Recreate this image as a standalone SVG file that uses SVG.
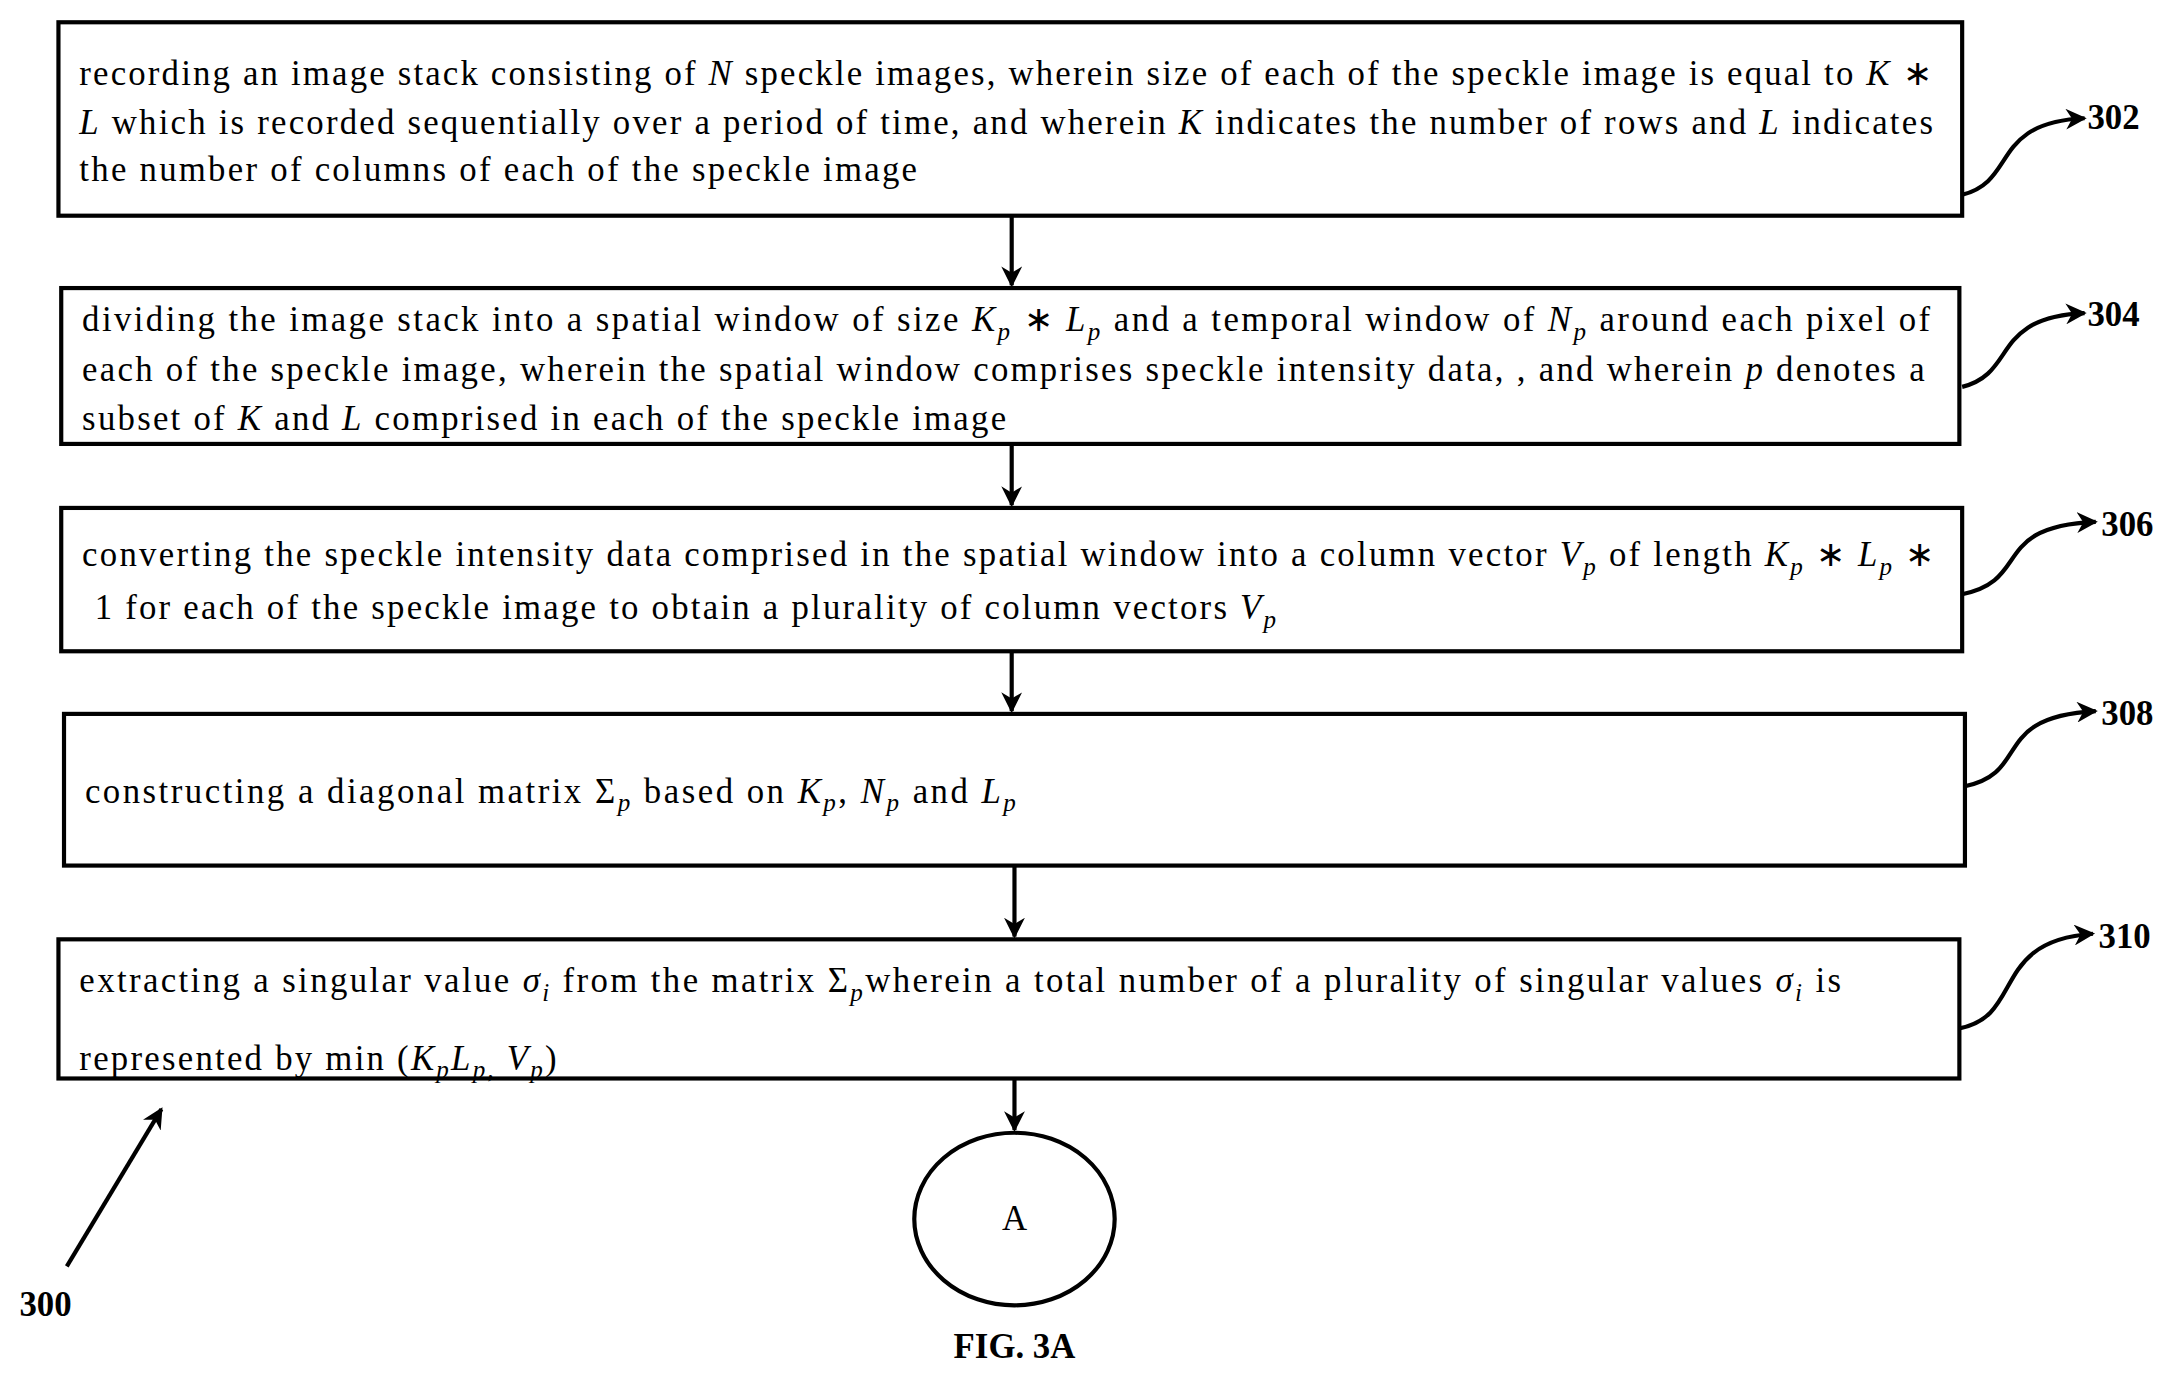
<svg xmlns="http://www.w3.org/2000/svg" width="2182" height="1381" viewBox="0 0 2182 1381">
<style>
.b{fill:#fff;stroke:#000;stroke-width:3}
.t{font-family:"Liberation Serif",serif;font-size:25px;fill:#000}
.i{font-style:italic}
.s{font-size:18px}
.l{font-family:"Liberation Serif",serif;font-size:25px;font-weight:bold;fill:#000}
.c{fill:none;stroke:#000;stroke-width:3}
</style>
<defs><marker id="a" viewBox="0 0 10 10" refX="9" refY="5" markerWidth="5" markerHeight="5" orient="auto"><path d="M0,0 L10,5 L0,10 L3,5 z" fill="#000"/></marker></defs>
<rect width="2182" height="1381" fill="#fff"/>
<g transform="scale(1.3916)">
<g id="n302"><rect class="b" x="42" y="16" width="1368" height="139"/>
<text class="t" x="57" y="61" textLength="1331" lengthAdjust="spacing">recording an image stack consisting of <tspan class="i">N</tspan> speckle images, wherein size of each of the speckle image is equal to <tspan class="i">K</tspan> ∗</text>
<text class="t" x="57" y="96" textLength="1332" lengthAdjust="spacing"><tspan class="i">L</tspan> which is recorded sequentially over a period of time, and wherein <tspan class="i">K</tspan> indicates the number of rows and <tspan class="i">L</tspan> indicates</text>
<text class="t" x="57" y="130" textLength="602" lengthAdjust="spacing">the number of columns of each of the speckle image</text></g>
<g id="n304"><rect class="b" x="44" y="207" width="1364" height="112"/>
<text class="t" x="59" y="238" textLength="1328" lengthAdjust="spacing">dividing the image stack into a spatial window of size <tspan class="i">K</tspan><tspan class="i s" dy="6">p</tspan><tspan dy="-6"> ∗ </tspan><tspan class="i">L</tspan><tspan class="i s" dy="6">p</tspan><tspan dy="-6"> and a temporal window of </tspan><tspan class="i">N</tspan><tspan class="i s" dy="6">p</tspan><tspan dy="-6"> around each pixel of</tspan></text>
<text class="t" x="59" y="274" textLength="1324" lengthAdjust="spacing">each of the speckle image, wherein the spatial window comprises speckle intensity data, , and wherein <tspan class="i">p</tspan> denotes a</text>
<text class="t" x="59" y="309" textLength="664" lengthAdjust="spacing">subset of <tspan class="i">K</tspan> and <tspan class="i">L</tspan> comprised in each of the speckle image</text></g>
<g id="n306"><rect class="b" x="44" y="365" width="1366" height="103"/>
<text class="t" x="59" y="407" textLength="1331" lengthAdjust="spacing">converting the speckle intensity data comprised in the spatial window into a column vector <tspan class="i">V</tspan><tspan class="i s" dy="6">p</tspan><tspan dy="-6"> of length </tspan><tspan class="i">K</tspan><tspan class="i s" dy="6">p</tspan><tspan dy="-6"> ∗ </tspan><tspan class="i">L</tspan><tspan class="i s" dy="6">p</tspan><tspan dy="-6"> ∗</tspan></text>
<text class="t" x="68" y="445" textLength="849" lengthAdjust="spacing">1 for each of the speckle image to obtain a plurality of column vectors <tspan class="i">V</tspan><tspan class="i s" dy="6">p</tspan></text></g>
<g id="n308"><rect class="b" x="46" y="513" width="1366" height="109"/>
<text class="t" x="61" y="577" textLength="669" lengthAdjust="spacing">constructing a diagonal matrix Σ<tspan class="i s" dy="6">p</tspan><tspan dy="-6"> based on </tspan><tspan class="i">K</tspan><tspan class="i s" dy="6">p</tspan><tspan dy="-6">, </tspan><tspan class="i">N</tspan><tspan class="i s" dy="6">p</tspan><tspan dy="-6"> and </tspan><tspan class="i">L</tspan><tspan class="i s" dy="6">p</tspan></text></g>
<g id="n310"><rect class="b" x="42" y="675" width="1366" height="100"/>
<text class="t" x="57" y="713" textLength="1266" lengthAdjust="spacing">extracting a singular value <tspan class="i">σ</tspan><tspan class="i s" dy="6">i</tspan><tspan dy="-6"> from the matrix Σ</tspan><tspan class="i s" dy="6">p</tspan><tspan dy="-6">wherein a total number of a plurality of singular values  </tspan><tspan class="i">σ</tspan><tspan class="i s" dy="6">i</tspan><tspan dy="-6"> is</tspan></text>
<text class="t" x="57" y="769" textLength="343" lengthAdjust="spacing">represented by min (<tspan class="i">K</tspan><tspan class="i s" dy="6">p</tspan><tspan class="i" dy="-6">L</tspan><tspan class="i s" dy="6">p,</tspan><tspan class="i" dy="-6"> V</tspan><tspan class="i s" dy="6">p</tspan><tspan dy="-6">)</tspan></text></g>
<g id="nA"><ellipse class="b" cx="729" cy="876" rx="72" ry="62"/><text class="t" x="729" y="884" text-anchor="middle">A</text></g>
<g id="connectors">
<line class="c" x1="727" y1="155" x2="727" y2="205" marker-end="url(#a)"/>
<line class="c" x1="727" y1="319" x2="727" y2="363" marker-end="url(#a)"/>
<line class="c" x1="727" y1="468" x2="727" y2="511" marker-end="url(#a)"/>
<line class="c" x1="729" y1="622" x2="729" y2="673" marker-end="url(#a)"/>
<line class="c" x1="729" y1="775" x2="729" y2="812" marker-end="url(#a)"/>
<path class="c" d="M1410,140 C1450,130 1430,88 1498,85" marker-end="url(#a)"/>
<path class="c" d="M1410,278 C1450,268 1430,228 1498,225" marker-end="url(#a)"/>
<path class="c" d="M1410,427 C1460,417 1430,378 1506,375" marker-end="url(#a)"/>
<path class="c" d="M1412,565 C1460,555 1430,515 1506,511" marker-end="url(#a)"/>
<path class="c" d="M1408,739 C1455,730 1430,676 1504,671" marker-end="url(#a)"/>
<line class="c" x1="48" y1="910" x2="116" y2="797" marker-end="url(#a)"/>
</g>
<text class="l" x="1500" y="93">302</text>
<text class="l" x="1500" y="234">304</text>
<text class="l" x="1510" y="385">306</text>
<text class="l" x="1510" y="521">308</text>
<text class="l" x="1508" y="681">310</text>
<text class="l" x="14" y="946">300</text>
<text class="l" x="729" y="976" text-anchor="middle">FIG. 3A</text>
</g>
</svg>
